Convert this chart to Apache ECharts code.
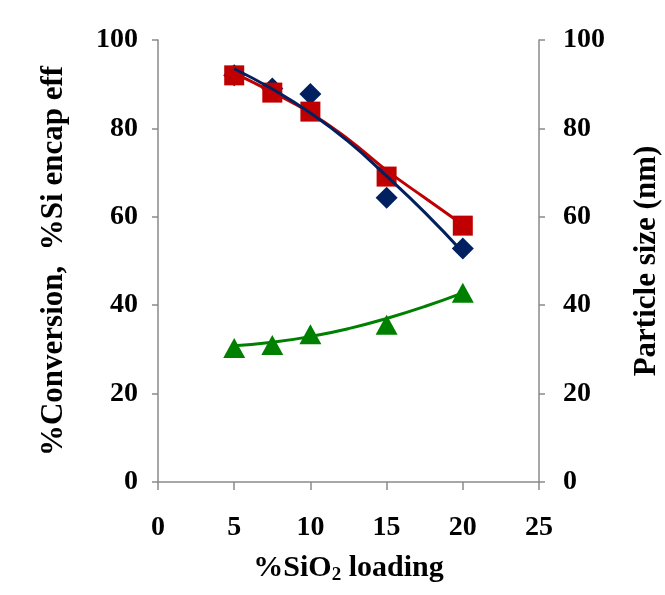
<!DOCTYPE html>
<html>
<head>
<meta charset="utf-8">
<script src="https://cdn.jsdelivr.net/npm/echarts@6/dist/echarts.min.js"></script>
<style>
  html, body { margin: 0; padding: 0; background: #fff; }
  #chart { width: 665px; height: 595px; }
</style>
</head>
<body>
<div id="chart"></div>
<script>
const loading = [5, 7.5, 10, 15, 20];
const conversion = [92, 89, 87.8, 64.3, 52.8];
const encapEff = [92, 88.1, 83.8, 69.1, 58];
const particleSize = [30.3, 31, 33.4, 35.6, 42.8];

// trendline values
const fitX = [5, 7.5, 10, 12.5, 15, 17.5, 20];
const conversionFit = [93.5, 88.9, 83.5, 77, 69.2, 61, 52];
const encapFit = [92.5, 88.2, 83.5, 77.5, 70.5, 64.3, 58.2];
const sizeFit = [30.8, 31.6, 32.9, 34.7, 37, 39.7, 42.8];

const font = 'Liberation Serif';
const axisGray = '#8a8a8a';
const pairs = (xs, ys) => xs.map((x, i) => [x, ys[i]]);

const chart = echarts.init(document.getElementById('chart'));

const labelStyle = { fontFamily: font, fontWeight: 'bold', fontSize: 28, color: '#000' };

const yCommon = {
  type: 'value',
  min: 0,
  max: 100,
  interval: 20,
  splitLine: { show: false },
  axisLine: { show: true, lineStyle: { color: axisGray, width: 1.5 } },
  axisTick: { show: true, length: 6, lineStyle: { color: axisGray, width: 1.5 } },
  nameLocation: 'middle',
  nameTextStyle: { fontFamily: font, fontWeight: 'bold', fontSize: 31, color: '#000' }
};

chart.setOption({
  animation: false,
  grid: { left: 158, right: 126, top: 40, bottom: 113, containLabel: false, outerBoundsMode: 'none' },
  xAxis: {
    type: 'value',
    min: 0,
    max: 25,
    interval: 5,
    splitLine: { show: false },
    axisLine: { lineStyle: { color: axisGray, width: 1.5 } },
    axisTick: { length: 8, lineStyle: { color: axisGray, width: 1.5 } },
    axisLabel: Object.assign({ margin: 32 }, labelStyle),
    name: '{a|%SiO}{s|2}{a| loading}',
    nameLocation: 'middle',
    nameGap: 70,
    nameTextStyle: {
      rich: {
        a: { fontFamily: font, fontWeight: 'bold', fontSize: 30, color: '#000' },
        s: { fontFamily: font, fontWeight: 'bold', fontSize: 19, color: '#000', padding: [14, 0, 0, 0] }
      }
    }
  },
  yAxis: [
    Object.assign({}, yCommon, {
      position: 'left',
      name: '%Conversion,  %Si encap eff',
      nameGap: 89,
      axisLabel: Object.assign({ margin: 20 }, labelStyle)
    }),
    Object.assign({}, yCommon, {
      position: 'right',
      name: 'Particle size (nm)',
      nameGap: 92,
      nameRotate: 90,
      axisLabel: Object.assign({ margin: 24 }, labelStyle)
    })
  ],
  series: [
    {
      type: 'scatter', yAxisIndex: 0, data: pairs(loading, conversion),
      symbol: 'diamond', symbolSize: [22, 22], itemStyle: { color: '#002060', opacity: 1 }, z: 2
    },
    {
      type: 'scatter', yAxisIndex: 0, data: pairs(loading, encapEff),
      symbol: 'rect', symbolSize: 20, itemStyle: { color: '#C00000', opacity: 1 }, z: 3
    },
    {
      type: 'scatter', yAxisIndex: 1, data: pairs(loading, particleSize),
      symbol: 'triangle', symbolSize: [22, 20], itemStyle: { color: '#008000', opacity: 1 }, z: 3
    },
    {
      type: 'line', yAxisIndex: 0, data: pairs(fitX, encapFit), smooth: true,
      showSymbol: false, lineStyle: { color: '#C00000', width: 3 }, z: 4
    },
    {
      type: 'line', yAxisIndex: 0, data: pairs(fitX, conversionFit), smooth: true,
      showSymbol: false, lineStyle: { color: '#002060', width: 3 }, z: 5
    },
    {
      type: 'line', yAxisIndex: 1, data: pairs(fitX, sizeFit), smooth: true,
      showSymbol: false, lineStyle: { color: '#008000', width: 3 }, z: 4
    }
  ]
});
</script>
</body>
</html>
